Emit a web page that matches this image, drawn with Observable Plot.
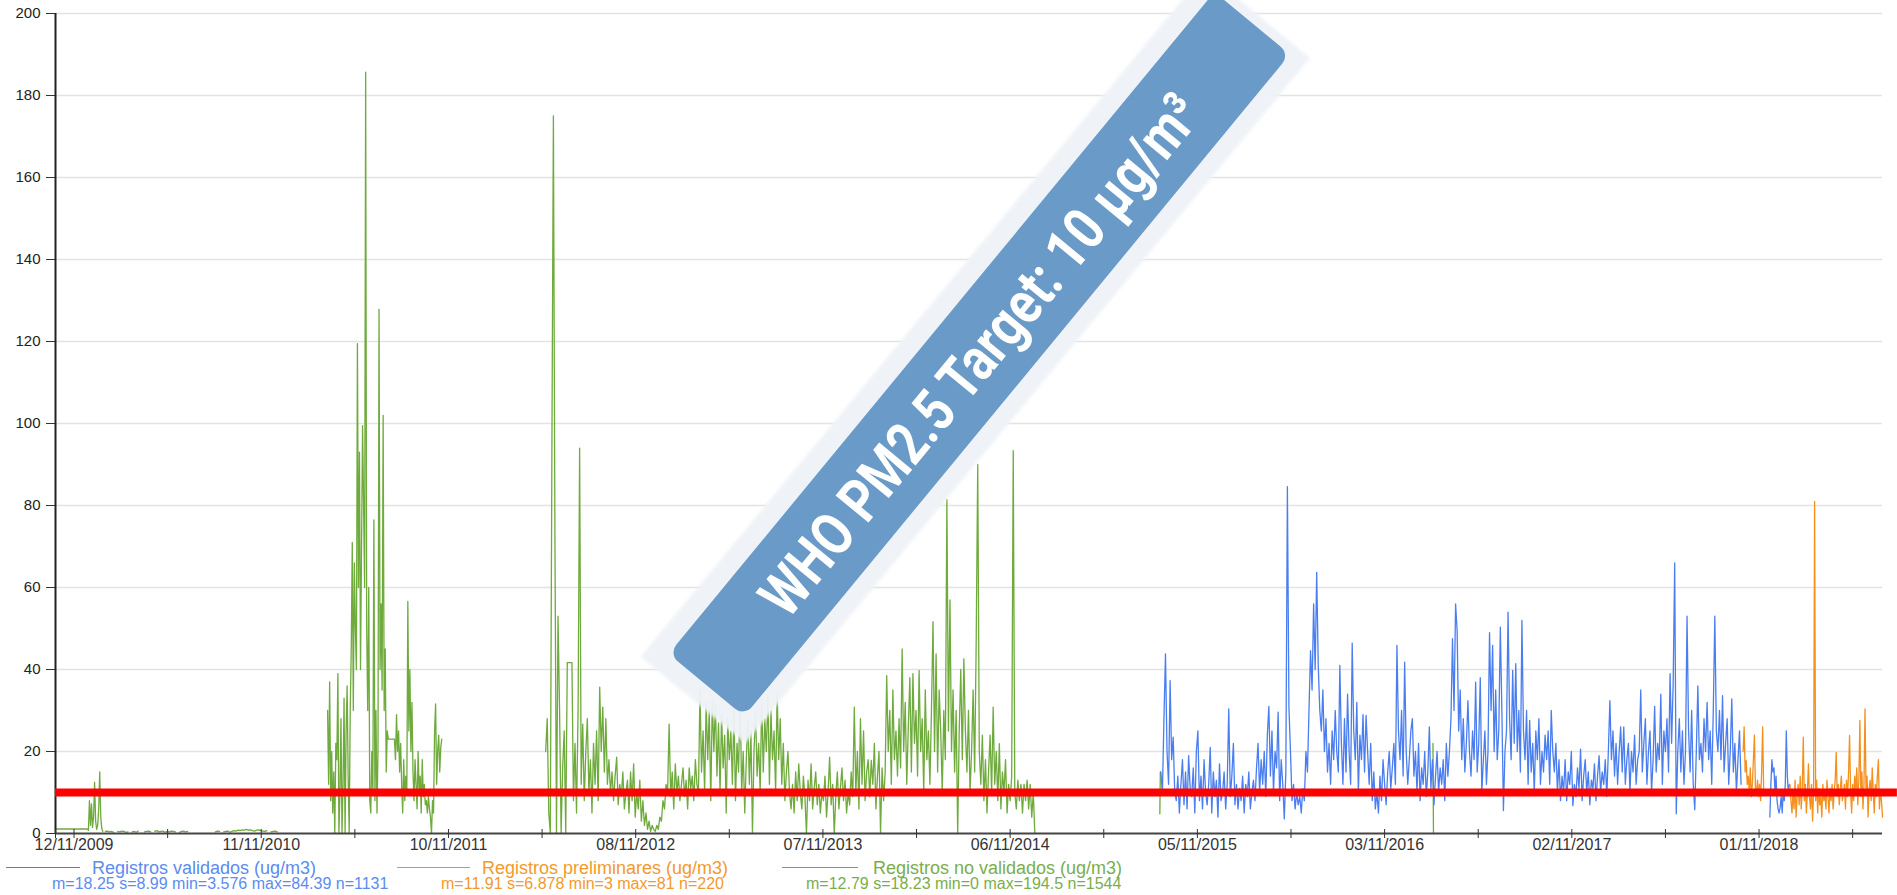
<!DOCTYPE html>
<html><head><meta charset="utf-8">
<script src="https://cdn.jsdelivr.net/npm/d3@7"></script>
<script src="https://cdn.jsdelivr.net/npm/@observablehq/plot@0.6"></script>
<style>
body{margin:0;background:#fff;font-family:"Liberation Sans",Arial,sans-serif;}
#wrap{position:relative;width:1897px;height:895px;overflow:hidden;background:#fff;}
#legend{position:absolute;left:0;top:856px;width:1897px;height:39px;}
.lg{position:absolute;white-space:nowrap;line-height:1;}
.sw{position:absolute;height:0;border-top:1.6px solid;}
</style></head><body><div id="wrap"><div id="chart"></div><div id="legend"></div></div>
<script>
// ---------- data (daily PM2.5 readings, sampled) ----------
const xDomain = ["2009-10-07", "2019-06-29"];
const yTicks = [0, 20, 40, 60, 80, 100, 120, 140, 160, 180, 200];
const xTickLabels = ["12/11/2009","11/11/2010","10/11/2011","08/11/2012","07/11/2013","06/11/2014","05/11/2015","03/11/2016","02/11/2017","01/11/2018"];
const target = 10;
const bannerText = "WHO PM2.5 Target: 10 µg/m³";
const bannerAt = {date: "2014-09-08", value: 116.8};

// green: "Registros no validados"
const greenA = {start: "2009-10-07", step: 2, values: [1.1,1.1,1.1,1.1,1.1,1.1,1.1,1.1,1.1,1.1,1.1,1.1,1.1,1.1,1.1,1.1,1.1,1.1,1.1,1.1,1.1,1.1,1.1,1.1,1.1,1.1,1.1,1.1,1.1,1.1,1.1,1.1,0.8,8,2,7.2,1.5,4,12.5,3,1,2,6,15,4,1.2,0.5]};
const greenB = {start: "2010-01-12", step: 4, values: [0.5,0.6,0.4,0.5,0.3,null,0.5,0.4,0.6,0.5,0.3,0.4,null,0.4,0.5,0.3,0.6,null,null,0.4,0.5,0.6,0.4,null,0.5,0.7,0.4,0.5,0.6,0.3,0.5,0.4,0.6,0.5,0.4,null,0.3,0.5,0.6,0.4,0.5]};
const greenC = {start: "2010-08-14", step: 4, values: [0.4,0.6,0.5,null,0.4,0.5,0.6,0.3,0.5,0.7,0.6,0.8,0.7,0.9,0.8,1.0,0.8,0.9,0.7,0.6,0.8,0.9,0.7,0.6,0.5,0.7,null,0.4,0.5,0.6,0.4]};
const greenD = {start: "2011-03-20", step: 2, values: [30,12,37,8,20,5,15,0,22, 18,39,0,10,28,0,12,33,0, 25,36,14,0,30, 45,71,30,66,50,40, 119.5, 60,93,40,70, 99.5,80,60,185.7, 50,30,60,8,5, 20,10,76.5, 8,30,5,20, 127.8, 40,56,35, 102, 30,45,15,25, 23,23,23,23,23,23,23,18, 29,20,25,15,22, 12,5,18,8,14,10, 56.6, 25,40,20,32, 15,8,18,12,6,20,10,14,5,18,9,12,7, 8,5,9,6,4,0,8,5, 25,31.6,12,20,24,15,21,23]};
const greenE = {start: "2012-05-17", step: 3, values: [
20,28,5,0,91,175,71,0,53,30,
0,16,25,0,41.7,41.7,41.7,41.7,8,22,
5,30,94,12,26.7,8,20,28,10,18,
5,22,12,25,8,35.7,20,30.8,15,28,
12,18,10,15,8,14,18.6,7,12,9,
15,6,10,13,5,15,8,17,4,10,
6,13,3,8,2,5,1,3,0.5,2,
1,0.5,2,1,4,3,8,6,12,10,
26.7,9,15,6,17,10,14,8,12,16,
9,13,6,16,11,14,8,18,12,10,
35,15,25,10,32,18,30,8,33,20,
31.6,14,27,10,29,16,24,5,28,18,
25,12,30,8,22,15,35,10,20,5,
18,28,12,25,0,20,30,14,22,10,
33,15,28,20,34,12,30,18,25,10,
34.5,18,28,12,22,8,15,20,10,6,
12,5,15,8,17,10,6,14,9,0,
13,8,17,6,11,15,7,12,5,10,
8,14,4,10,18.6,7,12,0,9,15,
6,11,16,8,13,5,10,7,15,9,
30.8,10,20,6,28,12,25,8,15,18,
9,17.8,12,22,6,14,20,0,16,8,
15,38.5,20,30,12,35,18,25,14,28,
16,45,20,32,12,26,38,15,39,22,
30,14,39.8,20,28,10,35,18,25,12,
30,51.7,20,43.8,15,35,25,10,30,18,
81.5,25,57,20,35,15,30,0,25,40,
18,42.6,25,15,30,10,20,35,15,47,
90,20,12,24,8,18,5,15,24,10,
30.8,12,20,8,21.9,6,15,10,18,5,
12,8,14,93.4,10,6,13,8,12,5,
12,8,13,6,12,4,10,0]};
const greenF = {start: "2015-08-24", step: 1, values: [4.8, 15]};
const greenG = {start: "2017-02-05", step: 1, values: [22, 0]};

// blue: "Registros validados"
const blueA = {start: "2015-08-26", step: 3, values: [
15,10,28,43.8,20,12,37.3,18,23.5,10,
8,14,5,12,18,7,15,6,19,11,
9,16,5,20,25,8,14,6,18,10,
7,12,21,5,15,9,13,4,17,8,
10,15,6,12,30.4,9,14,22,7,12,
6,11,8,14,5,12,9,15,6,10,
13,8,16,22,10,18,12,20,9,24,
31,14,25,10,20,16,29.6,8,18,12,
3.6,15,84.6,30.8,20,8,12,6,10,7,
9,5,11,8,20,15,30,44.6,35,56,
40,63.7,41,30,25,35,20,28,15,22,
12,25,18,30,20,15,41,22,12,28,
15,34,20,12,46.4,25,18,32,10,24,
18,29,15,28.8,20,12,22,8,15,6,
10,5,14,8,18,12,7,15,20,11,
16,22,12,45.9,25,18,30,14,41.8,20,
12,18,25,28,14,20,10,22,8,16,
12,20,9,15,26,11,18,7,14,20,
10,16,12,18,8,22,14,20,28,47.5,
30,56,49.5,25,35,18,28,15,22,32.4,
20,14,25,18,36.9,15,22,38,10,18,
25,12,20,49,30,45.9,20,35,18,25,
50.3,30,5.6,20,25,54,28,18,39.8,22,
41.4,20,30,15,52,25,18,30,12,27.6,
15,22,10,25,18,28,12,20,15,24,
18,25,12,30,20,15,22,10,18,8,
14,10,18,8,15,12,20,6.8,12,9,
16,11,20.6,8,14,18,10,15,7,13,
11,17,8,14,19,10,15,12,18,9,
20,32.4,18,25,14,22,12,20,26,15,
26,12,18,22,10,20,15,24,12,18,
20,35,15,22,28,12,20,25,10,18,
31,15,22,18,34,12,25,20,28,15,
39,22,36.5,66,4.8,20,28,15,25,12,
20,53,25,15,30,12,5.8,20,36,18,
22,15,28,20,32,18,25,12,30,53,
25,20,30,18,33.6,15,22,28,12,20,
32.8,15,22,10,18,25,12]};
const blueB = {start: "2018-11-22", step: 2, values: [4,12,18,15,16,10,14,8,6,5,6.4,9,5,10.5,8,12,25,14,10,12]};

// orange: "Registros preliminares"
const orangeA = {start: "2018-10-01", step: 2, values: [20,26,15,17.8,12,14,10,16,9,12,18,24,11,10,13,9,12,8,15,26,10]};
const orangeB = {start: "2018-12-31", step: 2, values: [
12,8,5,10,6,13,4,9,12,7,
14,6,11,23.5,8,12,5,10,17,9,
6,12,3,10,81,8,13,5,11,7,
9,4,12,8,10,6,13,9,5,11,
8,12,6,10,13,19.8,9,12,7,11,
14,8,10,12,6,13,9,15,23.9,10,
5,12,8,14,10,16,7,13,27.6,9,
15,6,12,30.4,10,14,4,11,13,8,
16,10,5,12,9,14,18,6,10,8,
4]};

const legendLabels = ["Registros validados (ug/m3)", "Registros preliminares (ug/m3)", "Registros no validados (ug/m3)"];
const legendStats = ["m=18.25 s=8.99 min=3.576 max=84.39 n=1131", "m=11.91 s=6.878 min=3 max=81 n=220", "m=12.79 s=18.23 min=0 max=194.5 n=1544"];

// ---------- styles ----------
const colors = {blue: "#4a7ef0", orange: "#f5901e", green: "#6eaa3c"};
const legendText = ["#5b8cef", "#f39a2c", "#7aae4a"];
const legendLine = [colors.blue, colors.orange, colors.green];

// ---------- build ----------
const DAY = 864e5;
const toDate = s => new Date(s + "T00:00:00Z");
function series(segs) {
  const out = [];
  segs.forEach(s => {
    const t0 = +toDate(s.start);
    s.values.forEach((v, i) => out.push({date: new Date(t0 + i * s.step * DAY), value: v == null ? NaN : v}));
    out.push({date: new Date(t0 + s.values.length * s.step * DAY), value: NaN});
  });
  return out;
}
const greenData = series([greenA, greenB, greenC, greenD, greenE, greenF, greenG]);
const blueData = series([blueA, blueB]);
const orangeData = series([orangeA, orangeB]);

const parseDMY = s => { const [d, m, y] = s.split("/"); return new Date(Date.UTC(+y, +m - 1, +d)); };
const labeledTicks = xTickLabels.map(parseDMY);
const labelMap = new Map(labeledTicks.map((d, i) => [+d, xTickLabels[i]]));
const allTicks = [toDate(xDomain[0])];
labeledTicks.forEach(d => { allTicks.push(d); allTicks.push(new Date(+d + 182 * DAY)); });

const x0 = toDate(xDomain[0]), x1 = toDate(xDomain[1]);
const redEnd = new Date(+x1 + 29 * DAY);

const chart = Plot.plot({
  width: 1897, height: 856,
  marginLeft: 55, marginRight: 15, marginTop: 13, marginBottom: 23,
  style: {fontFamily: "'Liberation Sans', Arial, sans-serif", background: "white", color: "#222"},
  x: {type: "utc", domain: [x0, x1], label: null},
  y: {domain: [0, 200], label: null},
  marks: [
    Plot.gridY(yTicks.filter(d => d > 0), {stroke: "#e2e4e2", strokeOpacity: 1, strokeWidth: 1.5}),
    Plot.line(greenData, {x: "date", y: "value", stroke: colors.green, strokeWidth: 1.3}),
    Plot.line(blueData, {x: "date", y: "value", stroke: colors.blue, strokeWidth: 1.3}),
    Plot.line(orangeData, {x: "date", y: "value", stroke: colors.orange, strokeWidth: 1.3}),
    Plot.axisY({ticks: yTicks, tickSize: 9, tickPadding: 6, fontSize: 15, stroke: "#333", fill: "#222", label: null}),
    Plot.ruleX([x0], {stroke: "#222", strokeWidth: 2}),
    Plot.ruleY([0], {stroke: "#444", strokeWidth: 2}),
    Plot.axisX({ticks: allTicks, tickSize: 9, dy: -4, tickFormat: () => "", stroke: "#333", label: null}),
    Plot.axisX({ticks: labeledTicks, tickSize: 0, tickPadding: 5, fontSize: 16, fill: "#333", label: null, tickFormat: d => labelMap.get(+d) ?? ""}),
    Plot.ruleY([target], {x1: () => x0, x2: () => redEnd, stroke: "#ff0000", strokeWidth: 8})
  ]
});
document.getElementById("chart").appendChild(chart);

// ---------- annotation banner ----------
const xs = chart.scale("x"), ys = chart.scale("y");
const cx = xs.apply(toDate(bannerAt.date)), cy = ys.apply(bannerAt.value);
const L = 858, W = 98;
const svg = d3.select(chart);
const defs = svg.append("defs");
defs.append("filter").attr("id", "soft").attr("x", "-10%").attr("y", "-30%").attr("width", "120%").attr("height", "160%")
  .append("feGaussianBlur").attr("stdDeviation", 1.5);
const g = svg.append("g").attr("transform", `translate(${cx},${cy}) rotate(-50.5)`);
g.append("rect").attr("x", -L/2 - 20).attr("y", -W/2 - 20).attr("width", L + 30).attr("height", W + 38)
  .attr("fill", "#eff3f7").attr("opacity", 0.95).attr("filter", "url(#soft)");
g.append("rect").attr("x", -L/2).attr("y", -W/2).attr("width", L).attr("height", W).attr("rx", 12)
  .attr("fill", "#6a9bc8");
g.append("text").attr("text-anchor", "middle").attr("dy", "0.36em")
  .attr("font-family", "Roboto, 'Liberation Sans', sans-serif").attr("font-weight", 700).attr("font-size", 60)
  .attr("fill", "#ffffff").attr("textLength", 655).attr("lengthAdjust", "spacingAndGlyphs")
  .text(bannerText);

// ---------- legend ----------
const lg = document.getElementById("legend");
const swX = [[6, 80], [397, 470], [782, 858]];
const labX = [92, 482, 873];
const statX = [52, 441, 806];
legendLabels.forEach((t, i) => {
  const sw = document.createElement("div");
  sw.className = "sw";
  sw.style.left = swX[i][0] + "px"; sw.style.width = (swX[i][1] - swX[i][0]) + "px"; sw.style.top = "11px";
  sw.style.borderColor = legendLine[i];
  lg.appendChild(sw);
  const a = document.createElement("div");
  a.className = "lg"; a.textContent = t;
  a.style.left = labX[i] + "px"; a.style.top = "3px"; a.style.fontSize = "18px"; a.style.color = legendText[i];
  lg.appendChild(a);
  const b = document.createElement("div");
  b.className = "lg"; b.textContent = legendStats[i];
  b.style.left = statX[i] + "px"; b.style.top = "20px"; b.style.fontSize = "16px"; b.style.color = legendText[i];
  lg.appendChild(b);
});
</script></body></html>
